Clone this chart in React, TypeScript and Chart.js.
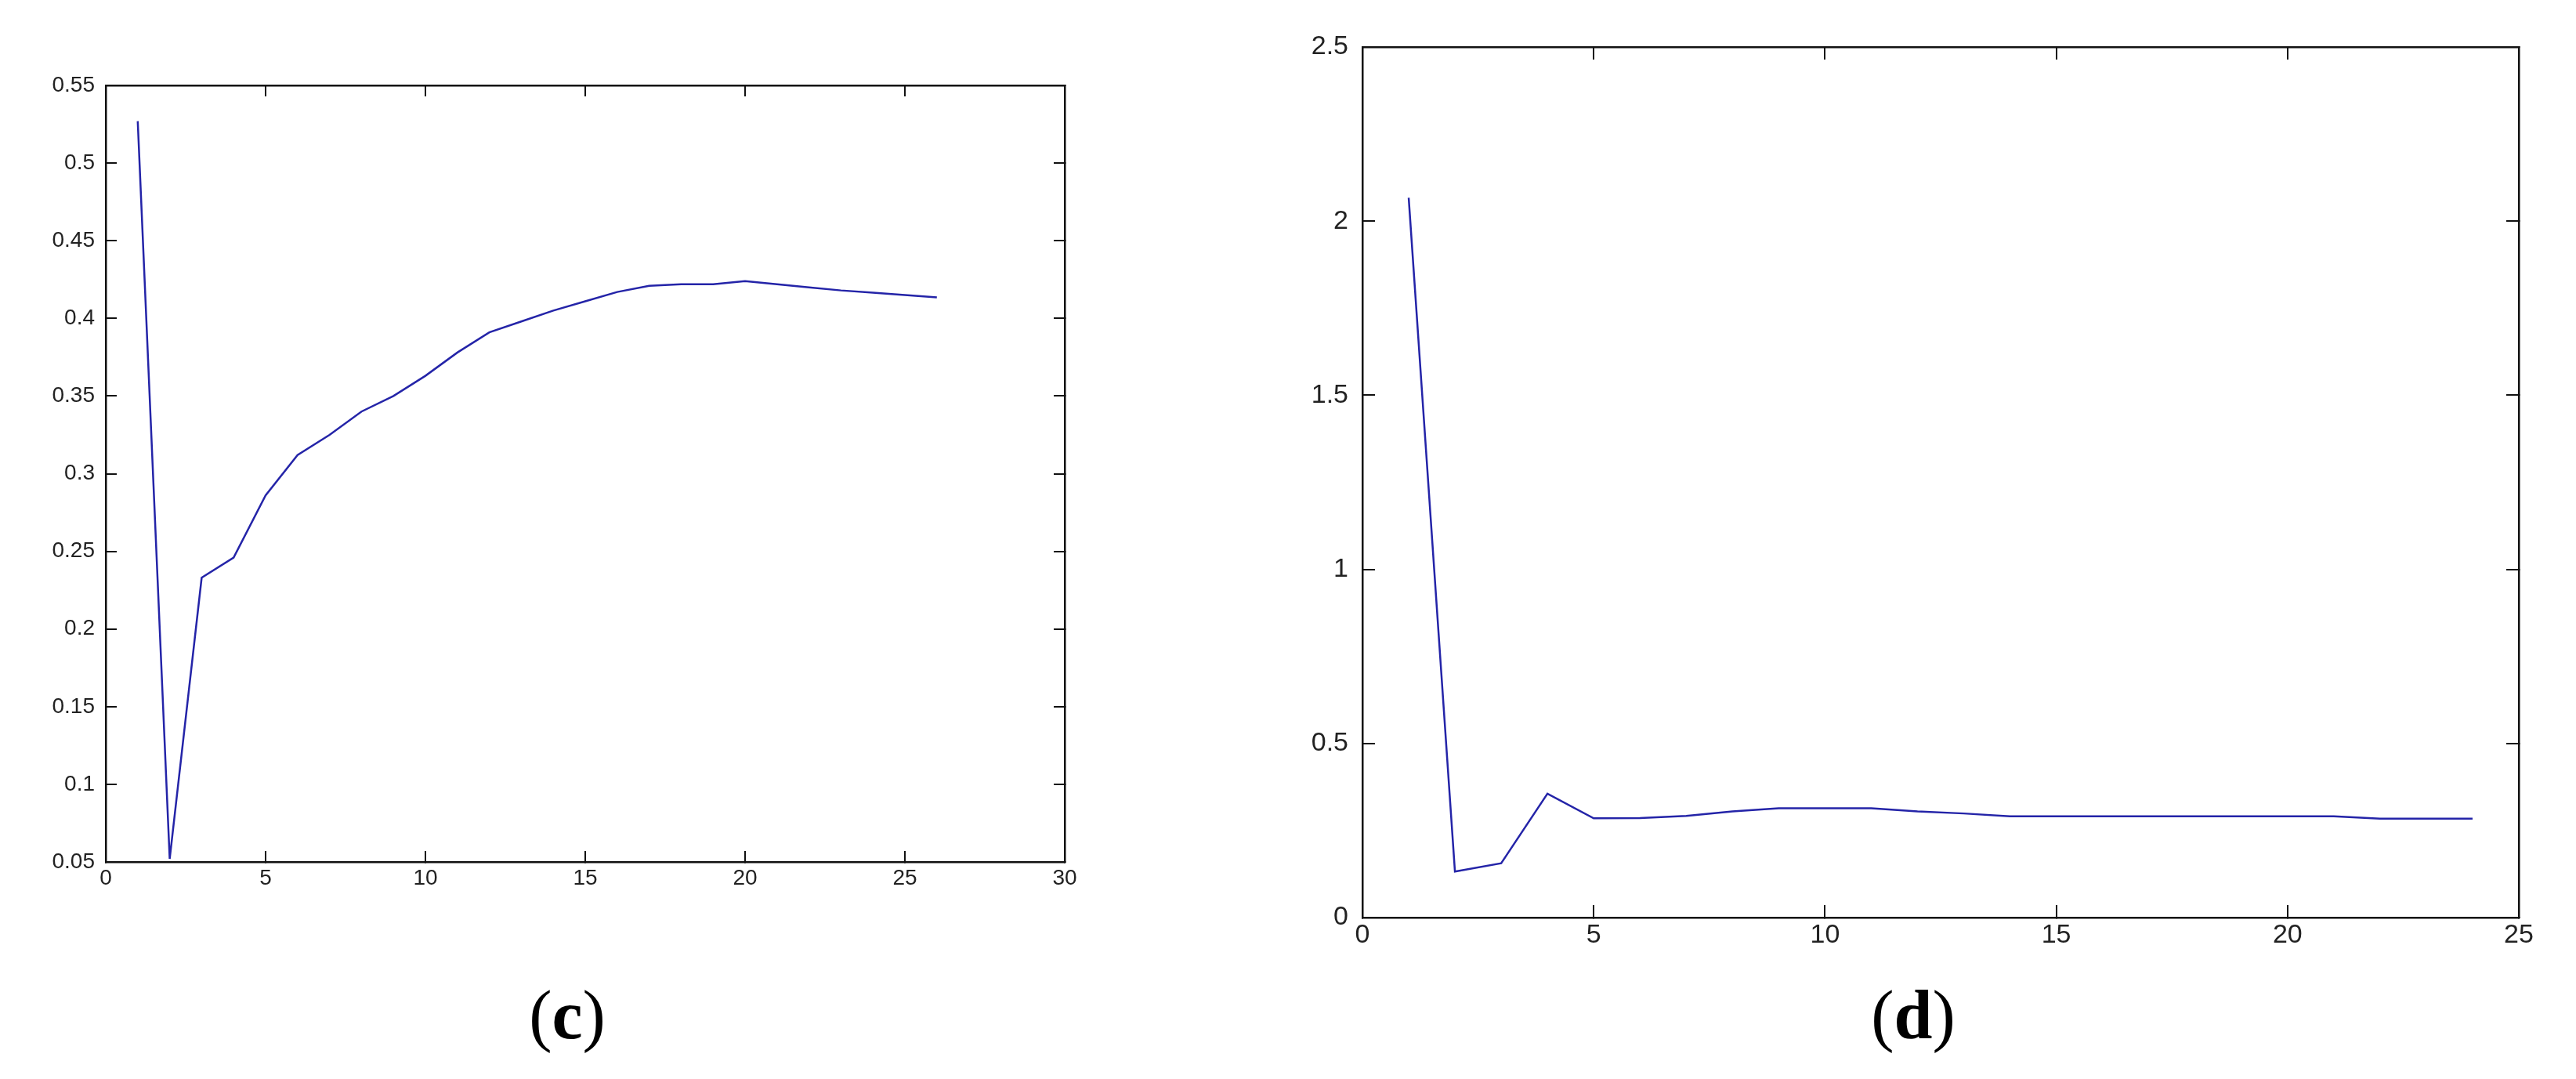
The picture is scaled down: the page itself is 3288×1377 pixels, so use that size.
import React, { useEffect, useRef } from "react";
import { Chart, registerables } from "chart.js";

Chart.register(...registerables);

// ---------- data: panel (c) ----------
const xC = [1, 2, 3, 4, 5, 6, 7, 8, 9, 10, 11, 12, 13, 14, 15, 16, 17, 18, 19, 20, 21, 22, 23, 24, 25, 26];
const valuesC = [
  0.527, 0.052, 0.233, 0.246, 0.286, 0.312, 0.325, 0.34, 0.35, 0.363, 0.378, 0.391, 0.398,
  0.405, 0.411, 0.417, 0.421, 0.422, 0.422, 0.424, 0.422, 0.42, 0.418, 0.4165, 0.415, 0.4135,
];
const xTicksC = [0, 5, 10, 15, 20, 25, 30];
const yTicksC = [0.05, 0.1, 0.15, 0.2, 0.25, 0.3, 0.35, 0.4, 0.45, 0.5, 0.55];

// ---------- data: panel (d) ----------
const xD = [1, 2, 3, 4, 5, 6, 7, 8, 9, 10, 11, 12, 13, 14, 15, 16, 17, 18, 19, 20, 21, 22, 23, 24];
const valuesD = [
  2.067, 0.132, 0.156, 0.356, 0.285, 0.286, 0.292, 0.305, 0.314, 0.314, 0.314, 0.305,
  0.299, 0.291, 0.291, 0.291, 0.291, 0.291, 0.291, 0.291, 0.291, 0.284, 0.284, 0.284,
];
const xTicksD = [0, 5, 10, 15, 20, 25];
const yTicksD = [0, 0.5, 1, 1.5, 2, 2.5];

const panelLetters = ["c", "d"];

const fmt = (v: number) => String(parseFloat(Number(v).toFixed(2)));

type Area = { left: number; right: number; top: number; bottom: number };
type PanelProps = {
  xs: number[];
  ys: number[];
  xTicks: number[];
  yTicks: number[];
  left: number;
  top: number;
  width: number;
  height: number;
  area: Area;
  fontSize: number;
  tickLen: number;
  xPad: number;
  yPad: number;
};

function makeConfig(p: PanelProps): any {
  const fixed = (list: number[]) => (scale: any) => {
    scale.ticks = list.map((v) => ({ value: v }));
  };
  const grid = {
    display: true,
    drawOnChartArea: false,
    drawTicks: true,
    tickLength: -p.tickLen,
    color: "#111111",
    lineWidth: 2,
  };
  const border = { display: true, color: "#111111", width: 2.5 };
  const font = { family: "'Liberation Sans', Arial, sans-serif", size: p.fontSize };
  const xMin = p.xTicks[0];
  const xMax = p.xTicks[p.xTicks.length - 1];
  const yMin = p.yTicks[0];
  const yMax = p.yTicks[p.yTicks.length - 1];
  return {
    type: "line",
    data: {
      datasets: [
        {
          data: p.xs.map((x, i) => ({ x, y: p.ys[i] })),
          borderColor: "#2424a8",
          borderWidth: 2.5,
          pointRadius: 0,
          tension: 0,
          fill: false,
        },
      ],
    },
    options: {
      animation: false,
      responsive: false,
      maintainAspectRatio: false,
      devicePixelRatio: 1,
      layout: {
        padding: { top: p.area.top, right: p.width - p.area.right, left: 0, bottom: 0 },
      },
      plugins: {
        legend: { display: false },
        tooltip: { enabled: false },
        title: { display: false },
      },
      scales: {
        x: {
          type: "linear",
          position: "bottom",
          min: xMin,
          max: xMax,
          afterBuildTicks: fixed(p.xTicks),
          afterFit: (s: any) => {
            s.height = p.height - p.area.bottom;
          },
          grid,
          border,
          ticks: {
            font,
            color: "#222222",
            padding: p.xPad,
            maxRotation: 0,
            autoSkip: false,
            callback: (v: any) => fmt(v),
          },
        },
        x2: {
          type: "linear",
          position: "top",
          min: xMin,
          max: xMax,
          afterBuildTicks: fixed(p.xTicks),
          afterFit: (s: any) => {
            s.height = 0;
          },
          grid,
          border,
          ticks: { display: false, autoSkip: false },
        },
        y: {
          type: "linear",
          position: "left",
          min: yMin,
          max: yMax,
          afterBuildTicks: fixed(p.yTicks),
          afterFit: (s: any) => {
            s.width = p.area.left;
          },
          grid,
          border,
          ticks: {
            font,
            color: "#222222",
            padding: p.yPad,
            autoSkip: false,
            callback: (v: any) => fmt(v),
          },
        },
        y2: {
          type: "linear",
          position: "right",
          min: yMin,
          max: yMax,
          afterBuildTicks: fixed(p.yTicks),
          afterFit: (s: any) => {
            s.width = 0;
          },
          grid,
          border,
          ticks: { display: false, autoSkip: false },
        },
      },
    },
  };
}

function Panel(p: PanelProps) {
  const ref = useRef<HTMLCanvasElement | null>(null);
  useEffect(() => {
    if (!ref.current) return;
    const chart = new Chart(ref.current, makeConfig(p));
    return () => chart.destroy();
  }, []);
  return (
    <canvas
      ref={ref}
      width={p.width}
      height={p.height}
      style={{
        position: "absolute",
        left: p.left,
        top: p.top,
        width: p.width,
        height: p.height,
      }}
    />
  );
}

function PanelLabel({ letter, cx, top }: { letter: string; cx: number; top: number }) {
  return (
    <div
      style={{
        position: "absolute",
        left: cx - 200,
        top,
        width: 400,
        textAlign: "center",
        fontFamily: "'Liberation Serif', 'Times New Roman', serif",
        fontSize: 88,
        lineHeight: "88px",
        color: "#000",
      }}
    >
      (<b>{letter}</b>)
    </div>
  );
}

export default function App() {
  return (
    <div
      style={{
        position: "absolute",
        left: 0,
        top: 0,
        width: 3288,
        height: 1377,
        background: "#ffffff",
        overflow: "hidden",
      }}
    >
      <Panel
        xs={xC}
        ys={valuesC}
        xTicks={xTicksC}
        yTicks={yTicksC}
        left={0}
        top={0}
        width={1500}
        height={1250}
        area={{ left: 135, right: 1359, top: 109, bottom: 1100 }}
        fontSize={28}
        tickLen={14}
        xPad={18}
        yPad={28}
      />
      <Panel
        xs={xD}
        ys={valuesD}
        xTicks={xTicksD}
        yTicks={yTicksD}
        left={1600}
        top={0}
        width={1688}
        height={1250}
        area={{ left: 139, right: 1615, top: 60, bottom: 1171 }}
        fontSize={34}
        tickLen={16}
        xPad={18}
        yPad={34}
      />
      <PanelLabel letter={panelLetters[0]} cx={724} top={1252} />
      <PanelLabel letter={panelLetters[1]} cx={2442} top={1252} />
    </div>
  );
}
